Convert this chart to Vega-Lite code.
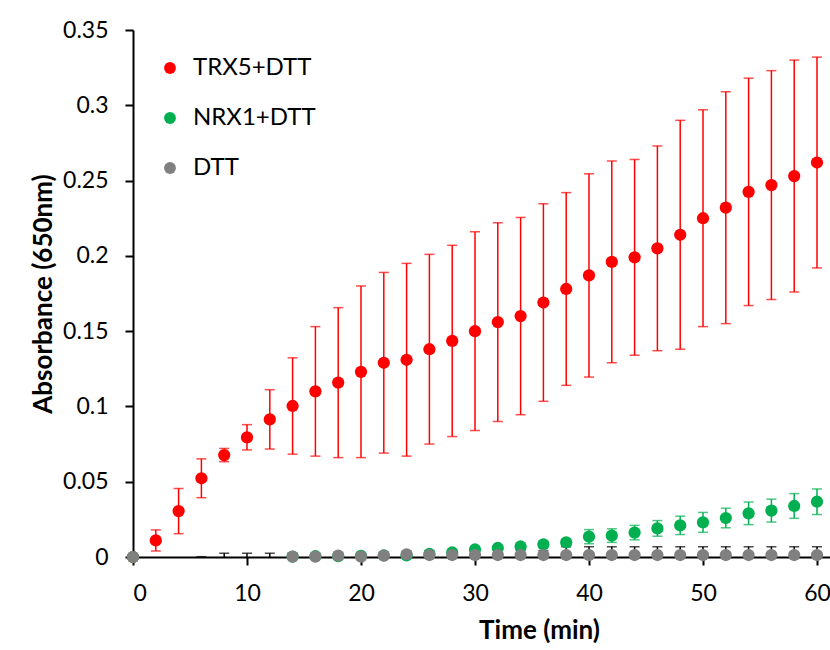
{
  "$schema": "https://vega.github.io/schema/vega-lite/v6.json",
  "autosize": "none",
  "width": 697,
  "height": 527,
  "padding": {"left": 133, "top": 30, "right": 0, "bottom": 93},
  "background": "white",
  "config": {
    "view": {"stroke": null},
    "font": "Lato",
    "axis": {"grid": false, "domainColor": "#000000", "domainWidth": 2, "tickColor": "#000000", "tickWidth": 2, "tickSize": 8, "labelFont": "Lato", "labelColor": "#000000", "labelFontSize": 23, "titleFont": "Lato", "titleFontWeight": "bold", "titleFontSize": 26, "titleColor": "#000000"}
  },
  "data": {"values": [
    {"t": 0, "v": 0, "e": 0, "s": "TRX5+DTT"},
    {"t": 2, "v": 0.011, "e": 0.007, "s": "TRX5+DTT"},
    {"t": 4, "v": 0.0305, "e": 0.015, "s": "TRX5+DTT"},
    {"t": 6, "v": 0.0523, "e": 0.0129, "s": "TRX5+DTT"},
    {"t": 8, "v": 0.0677, "e": 0.0044, "s": "TRX5+DTT"},
    {"t": 10, "v": 0.0795, "e": 0.0084, "s": "TRX5+DTT"},
    {"t": 12, "v": 0.0914, "e": 0.0197, "s": "TRX5+DTT"},
    {"t": 14, "v": 0.1003, "e": 0.032, "s": "TRX5+DTT"},
    {"t": 16, "v": 0.110, "e": 0.043, "s": "TRX5+DTT"},
    {"t": 18, "v": 0.1158, "e": 0.0498, "s": "TRX5+DTT"},
    {"t": 20, "v": 0.123, "e": 0.057, "s": "TRX5+DTT"},
    {"t": 22, "v": 0.129, "e": 0.060, "s": "TRX5+DTT"},
    {"t": 24, "v": 0.131, "e": 0.064, "s": "TRX5+DTT"},
    {"t": 26, "v": 0.138, "e": 0.063, "s": "TRX5+DTT"},
    {"t": 28, "v": 0.1435, "e": 0.0635, "s": "TRX5+DTT"},
    {"t": 30, "v": 0.150, "e": 0.066, "s": "TRX5+DTT"},
    {"t": 32, "v": 0.156, "e": 0.066, "s": "TRX5+DTT"},
    {"t": 34, "v": 0.160, "e": 0.0655, "s": "TRX5+DTT"},
    {"t": 36, "v": 0.169, "e": 0.0656, "s": "TRX5+DTT"},
    {"t": 38, "v": 0.178, "e": 0.064, "s": "TRX5+DTT"},
    {"t": 40, "v": 0.187, "e": 0.0675, "s": "TRX5+DTT"},
    {"t": 42, "v": 0.196, "e": 0.067, "s": "TRX5+DTT"},
    {"t": 44, "v": 0.199, "e": 0.065, "s": "TRX5+DTT"},
    {"t": 46, "v": 0.205, "e": 0.068, "s": "TRX5+DTT"},
    {"t": 48, "v": 0.214, "e": 0.076, "s": "TRX5+DTT"},
    {"t": 50, "v": 0.225, "e": 0.072, "s": "TRX5+DTT"},
    {"t": 52, "v": 0.232, "e": 0.077, "s": "TRX5+DTT"},
    {"t": 54, "v": 0.2425, "e": 0.0755, "s": "TRX5+DTT"},
    {"t": 56, "v": 0.247, "e": 0.076, "s": "TRX5+DTT"},
    {"t": 58, "v": 0.253, "e": 0.077, "s": "TRX5+DTT"},
    {"t": 60, "v": 0.262, "e": 0.070, "s": "TRX5+DTT"},
    {"t": 0, "v": 0, "e": 0, "s": "NRX1+DTT"},
    {"t": 2, "v": -0.001, "e": 0.0005, "s": "NRX1+DTT"},
    {"t": 4, "v": -0.001, "e": 0.0005, "s": "NRX1+DTT"},
    {"t": 6, "v": -0.001, "e": 0.0005, "s": "NRX1+DTT"},
    {"t": 8, "v": -0.001, "e": 0.0005, "s": "NRX1+DTT"},
    {"t": 10, "v": -0.001, "e": 0.0005, "s": "NRX1+DTT"},
    {"t": 12, "v": -0.001, "e": 0.0005, "s": "NRX1+DTT"},
    {"t": 14, "v": 0.0003, "e": 0.001, "s": "NRX1+DTT"},
    {"t": 16, "v": 0.0005, "e": 0.001, "s": "NRX1+DTT"},
    {"t": 18, "v": 0.0005, "e": 0.001, "s": "NRX1+DTT"},
    {"t": 20, "v": 0.0008, "e": 0.001, "s": "NRX1+DTT"},
    {"t": 22, "v": 0.001, "e": 0.001, "s": "NRX1+DTT"},
    {"t": 24, "v": 0.001, "e": 0.001, "s": "NRX1+DTT"},
    {"t": 26, "v": 0.002, "e": 0.001, "s": "NRX1+DTT"},
    {"t": 28, "v": 0.003, "e": 0.001, "s": "NRX1+DTT"},
    {"t": 30, "v": 0.005, "e": 0.0015, "s": "NRX1+DTT"},
    {"t": 32, "v": 0.006, "e": 0.0015, "s": "NRX1+DTT"},
    {"t": 34, "v": 0.007, "e": 0.002, "s": "NRX1+DTT"},
    {"t": 36, "v": 0.0084, "e": 0.002, "s": "NRX1+DTT"},
    {"t": 38, "v": 0.0097, "e": 0.002, "s": "NRX1+DTT"},
    {"t": 40, "v": 0.0135, "e": 0.0047, "s": "NRX1+DTT"},
    {"t": 42, "v": 0.0142, "e": 0.0045, "s": "NRX1+DTT"},
    {"t": 44, "v": 0.0162, "e": 0.0048, "s": "NRX1+DTT"},
    {"t": 46, "v": 0.019, "e": 0.0052, "s": "NRX1+DTT"},
    {"t": 48, "v": 0.021, "e": 0.0061, "s": "NRX1+DTT"},
    {"t": 50, "v": 0.023, "e": 0.0066, "s": "NRX1+DTT"},
    {"t": 52, "v": 0.0259, "e": 0.0065, "s": "NRX1+DTT"},
    {"t": 54, "v": 0.029, "e": 0.0075, "s": "NRX1+DTT"},
    {"t": 56, "v": 0.0308, "e": 0.0076, "s": "NRX1+DTT"},
    {"t": 58, "v": 0.0339, "e": 0.0082, "s": "NRX1+DTT"},
    {"t": 60, "v": 0.0367, "e": 0.0085, "s": "NRX1+DTT"},
    {"t": 0, "v": 0, "e": 0.0005, "s": "DTT"},
    {"t": 2, "v": -0.004, "e": 0.002, "s": "DTT"},
    {"t": 4, "v": -0.004, "e": 0.002, "s": "DTT"},
    {"t": 6, "v": -0.003, "e": 0.0032, "s": "DTT"},
    {"t": 8, "v": -0.002, "e": 0.0045, "s": "DTT"},
    {"t": 10, "v": -0.002, "e": 0.0045, "s": "DTT"},
    {"t": 12, "v": -0.002, "e": 0.0045, "s": "DTT"},
    {"t": 14, "v": 0.0003, "e": 0.002, "s": "DTT"},
    {"t": 16, "v": 0.0003, "e": 0.002, "s": "DTT"},
    {"t": 18, "v": 0.0009, "e": 0.002, "s": "DTT"},
    {"t": 20, "v": 0.0003, "e": 0.002, "s": "DTT"},
    {"t": 22, "v": 0.0009, "e": 0.002, "s": "DTT"},
    {"t": 24, "v": 0.0018, "e": 0.002, "s": "DTT"},
    {"t": 26, "v": 0.0013, "e": 0.003, "s": "DTT"},
    {"t": 28, "v": 0.0013, "e": 0.003, "s": "DTT"},
    {"t": 30, "v": 0.0013, "e": 0.003, "s": "DTT"},
    {"t": 32, "v": 0.0013, "e": 0.003, "s": "DTT"},
    {"t": 34, "v": 0.0013, "e": 0.003, "s": "DTT"},
    {"t": 36, "v": 0.0013, "e": 0.003, "s": "DTT"},
    {"t": 38, "v": 0.0013, "e": 0.0055, "s": "DTT"},
    {"t": 40, "v": 0.0013, "e": 0.0055, "s": "DTT"},
    {"t": 42, "v": 0.0013, "e": 0.0055, "s": "DTT"},
    {"t": 44, "v": 0.0013, "e": 0.0055, "s": "DTT"},
    {"t": 46, "v": 0.0013, "e": 0.0055, "s": "DTT"},
    {"t": 48, "v": 0.0013, "e": 0.0055, "s": "DTT"},
    {"t": 50, "v": 0.0013, "e": 0.0055, "s": "DTT"},
    {"t": 52, "v": 0.0013, "e": 0.0055, "s": "DTT"},
    {"t": 54, "v": 0.0013, "e": 0.0055, "s": "DTT"},
    {"t": 56, "v": 0.0013, "e": 0.0055, "s": "DTT"},
    {"t": 58, "v": 0.0013, "e": 0.0055, "s": "DTT"},
    {"t": 60, "v": 0.0013, "e": 0.0055, "s": "DTT"}
  ]},
  "encoding": {
    "x": {"field": "t", "type": "quantitative", "scale": {"domain": [0, 61.14], "nice": false, "zero": false},
      "axis": {"title": "Time (min)", "values": [0, 10, 20, 30, 40, 50, 60], "format": "d", "labelPadding": 17, "titlePadding": 12, "titleX": 406}}
  },
  "layer": [
    {
      "mark": {"type": "errorbar", "ticks": true, "size": 10, "thickness": 1.5, "clip": true},
      "encoding": {
        "y": {"field": "v", "type": "quantitative", "scale": {"domain": [0, 0.35], "nice": false},
          "axis": {"title": "Absorbance (650nm)", "values": [0, 0.05, 0.1, 0.15, 0.2, 0.25, 0.3, 0.35], "format": ".2~f", "labelPadding": 17, "titlePadding": 6}},
        "yError": {"field": "e"},
        "color": {"field": "s", "type": "nominal", "scale": {"domain": ["TRX5+DTT", "NRX1+DTT", "DTT"], "range": ["#FF0000", "#00B050", "#000000"]}, "legend": null}
      }
    },
    {
      "transform": [{"filter": "datum.v >= 0"}],
      "mark": {"type": "point", "filled": true, "opacity": 1, "size": 150, "shape": "circle"},
      "encoding": {
        "y": {"field": "v", "type": "quantitative"},
        "color": {"field": "s", "type": "nominal", "scale": {"domain": ["TRX5+DTT", "NRX1+DTT", "DTT"], "range": ["#FF0000", "#00B050", "#808080"]},
          "legend": {"title": null, "orient": "none", "legendX": 25, "legendY": 26, "symbolType": "circle", "symbolSize": 140, "symbolStrokeWidth": 0, "labelFontSize": 24, "labelFont": "Lato", "labelColor": "#000000", "labelOffset": 11, "rowPadding": 26}}
      }
    }
  ],
  "resolve": {"scale": {"color": "independent"}}
}
